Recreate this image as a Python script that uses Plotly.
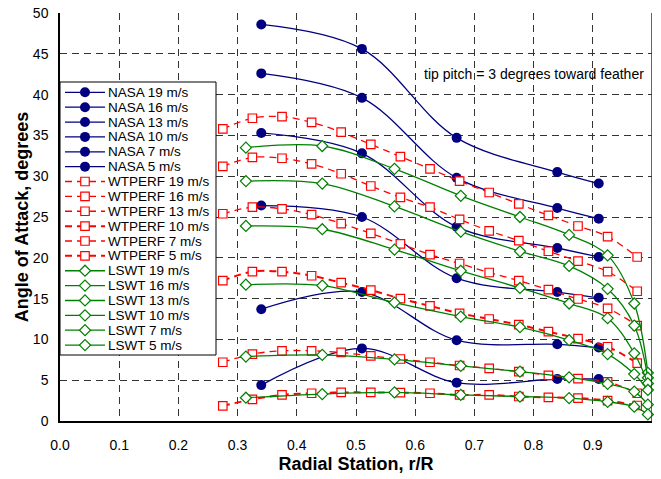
import plotly.graph_objects as go

# ---- data -------------------------------------------------------------
speeds = ["19", "16", "13", "10", "7", "5"]

# NASA Ames wind-tunnel measurements
nasa_r = [0.34, 0.51, 0.67, 0.84, 0.91]
nasa_19 = [48.6, 45.6, 34.7, 30.5, 29.1]
nasa_16 = [42.6, 39.6, 29.8, 26.1, 24.8]
nasa_13 = [35.3, 32.8, 23.8, 21.2, 20.1]
nasa_10 = [26.4, 25.0, 17.5, 15.8, 15.1]
nasa_7 = [13.7, 15.8, 9.9, 9.4, 9.0]
nasa_5 = [4.4, 8.9, 4.7, 5.15, 5.15]

# WTPERF predictions
wtperf_r = [0.275, 0.325, 0.375, 0.425, 0.475, 0.525, 0.575, 0.625,
            0.675, 0.725, 0.775, 0.825, 0.875, 0.925, 0.975]
wtperf_19 = [35.8, 37.1, 37.3, 36.6, 35.4, 33.9, 32.4, 30.9, 29.4, 28.0, 26.6, 25.2, 23.9, 22.6, 20.1]
wtperf_16 = [31.2, 32.3, 32.2, 31.5, 30.3, 28.8, 27.4, 26.2, 24.7, 23.3, 22.1, 20.8, 19.6, 18.3, 15.9]
wtperf_13 = [25.4, 26.2, 26.0, 25.3, 24.2, 23.0, 21.7, 20.4, 19.3, 18.2, 17.2, 16.1, 14.95, 13.8, 11.7]
wtperf_10 = [17.2, 18.3, 18.3, 17.8, 16.95, 16.05, 15.0, 14.1, 13.2, 12.5, 11.8, 10.95, 10.1, 9.1, 7.1]
wtperf_7 = [7.2, 8.2, 8.6, 8.6, 8.4, 7.97, 7.6, 7.2, 6.8, 6.45, 6.05, 5.6, 5.2, 4.8, 3.4]
wtperf_5 = [1.85, 2.65, 3.2, 3.4, 3.5, 3.5, 3.47, 3.4, 3.2, 3.2, 3.0, 2.9, 2.8, 2.5, 1.9]

# LSWT predictions
lswt_r = [0.314, 0.443, 0.565, 0.677, 0.777, 0.860, 0.925, 0.970, 0.993]
lswt_19 = [33.5, 33.7, 30.9, 27.6, 25.0, 22.8, 20.3, 14.4, 5.9]
lswt_16 = [29.4, 29.1, 26.3, 23.2, 20.8, 19.0, 16.2, 11.7, 5.3]
lswt_13 = [23.9, 23.5, 21.0, 18.4, 16.3, 14.4, 12.6, 8.3, 4.6]
lswt_10 = [16.7, 16.6, 14.5, 12.8, 11.5, 9.9, 8.2, 5.75, 3.8]
lswt_7 = [7.9, 8.1, 7.55, 6.75, 6.05, 5.35, 4.55, 3.6, 2.0]
lswt_5 = [2.85, 3.3, 3.5, 3.2, 3.0, 2.8, 2.35, 1.75, 0.8]

x_ticks = [0.0, 0.1, 0.2, 0.3, 0.4, 0.5, 0.6, 0.7, 0.8, 0.9, 1.0]
y_ticks = [0, 5, 10, 15, 20, 25, 30, 35, 40, 45, 50]

note_text = "tip pitch = 3 degrees toward feather"

# ---- styles -----------------------------------------------------------
NAVY, RED, GREEN = "#000080", "#FF0000", "#008000"
FONT = "Liberation Sans, Arial, sans-serif"
DASH = "7px,5px"

groups = [
    ("NASA", nasa_r, [nasa_19, nasa_16, nasa_13, nasa_10, nasa_7, nasa_5],
     dict(color=NAVY, width=1.3),
     dict(symbol="circle", size=10, color=NAVY, line=dict(width=0))),
    ("WTPERF", wtperf_r, [wtperf_19, wtperf_16, wtperf_13, wtperf_10, wtperf_7, wtperf_5],
     dict(color=RED, width=1.3, dash=DASH),
     dict(symbol="square", size=8.5, color="white", line=dict(color=RED, width=1.2))),
    ("LSWT", lswt_r, [lswt_19, lswt_16, lswt_13, lswt_10, lswt_7, lswt_5],
     dict(color=GREEN, width=1.3),
     dict(symbol="diamond", size=8.5, color="white", line=dict(color=GREEN, width=1.2))),
]

fig = go.Figure()

entries = []
for name, r, series, line, marker in groups:
    for spd, vals in zip(speeds, series):
        ln = dict(line)
        if name == "WTPERF" and spd in ("10", "5"):
            ln["width"] = 2.0
        fig.add_trace(go.Scatter(
            x=r, y=vals, mode="lines+markers", name=f"{name} {spd} m/s",
            line=dict(shape="spline", smoothing=1.0, **ln),
            marker=marker, showlegend=False, cliponaxis=False,
        ))
        entries.append((f"{name} {spd} m/s", ln, marker))

# ---- key box, drawn on a pixel-scaled overlay of the plot area ---------
PW, PH = 592, 408
box_l, box_r, box_t, box_b = 0, 156, 69, 342
row0, row_step = 79.3, 14.87
fig.add_trace(go.Scatter(
    x=[box_l, box_r, box_r, box_l, box_l], y=[box_t, box_t, box_b, box_b, box_t],
    xaxis="x2", yaxis="y2", mode="lines", fill="toself", fillcolor="white",
    line=dict(color="black", width=1), showlegend=False, hoverinfo="skip",
))
annotations = []
for i, (label, ln, marker) in enumerate(entries):
    yy = row0 + i * row_step
    fig.add_trace(go.Scatter(
        x=[5, 45], y=[yy, yy], xaxis="x2", yaxis="y2", mode="lines",
        line=dict(color=ln["color"], width=ln["width"], dash=ln.get("dash", "solid")),
        showlegend=False, hoverinfo="skip",
    ))
    fig.add_trace(go.Scatter(
        x=[25], y=[yy], xaxis="x2", yaxis="y2", mode="markers",
        marker=marker, showlegend=False, hoverinfo="skip",
    ))
    annotations.append(dict(
        x=47, y=yy, xref="x2", yref="y2", text=label, showarrow=False,
        xanchor="left", yanchor="middle", borderpad=0,
        font=dict(family=FONT, size=13.5, color="black"),
    ))

annotations.append(dict(
    x=0.80, y=42.5, xref="x", yref="y", text=note_text, showarrow=False,
    xanchor="center", yanchor="middle", font=dict(family=FONT, size=14, color="black"),
))

grid = dict(showgrid=True, gridcolor="#333333", gridwidth=1.2, griddash=DASH,
            zeroline=False, showline=True, linecolor="black", linewidth=1.5,
            ticks="outside", tickcolor="rgba(0,0,0,0)",
            tickfont=dict(family=FONT, size=14, color="black"))

fig.update_layout(
    width=661, height=479,
    margin=dict(l=60, r=9, t=13, b=58, autoexpand=False),
    paper_bgcolor="white", plot_bgcolor="white",
    xaxis=dict(range=[0, 1], tickvals=x_ticks, tickformat=".1f", ticklen=10,
               title=dict(text="<b>Radial Station, r/R</b>", standoff=6,
                          font=dict(family=FONT, size=18, color="black")),
               **grid),
    yaxis=dict(range=[0, 50], tickvals=y_ticks, ticklen=7,
               title=dict(text="<b>Angle of Attack, degrees</b>", standoff=0,
                          font=dict(family=FONT, size=18, color="black")),
               **grid),
    xaxis2=dict(overlaying="x", range=[0, PW], visible=False, fixedrange=True),
    yaxis2=dict(overlaying="y", range=[PH, 0], visible=False, fixedrange=True),
    annotations=annotations,
    shapes=[dict(type="line", xref="x", yref="y", x0=1, x1=1, y0=0, y1=50,
                 line=dict(color="#333333", width=1.5), layer="above")],
    showlegend=False,
)

fig.write_html("out.html")
